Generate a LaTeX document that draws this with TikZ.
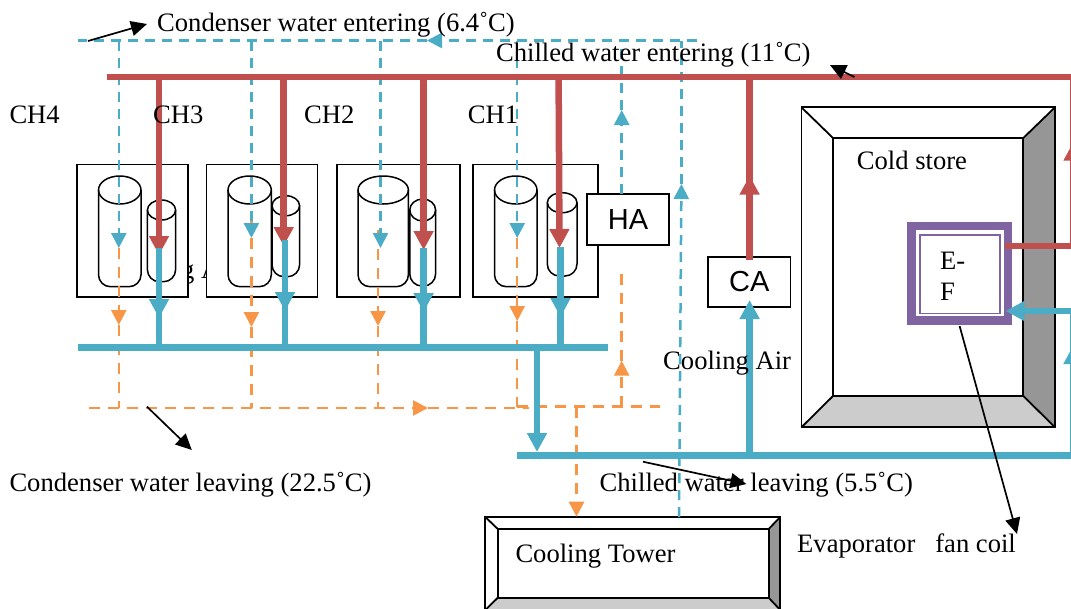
\documentclass[tikz,border=0pt]{standalone}
\usepackage{fontspec}
\setmainfont{Liberation Serif}
\newfontfamily\sansfont{Liberation Sans}
\usetikzlibrary{arrows.meta}
\definecolor{pipered}{HTML}{C0504D}
\definecolor{pipeblue}{HTML}{4BACC6}
\definecolor{pipeorange}{HTML}{F79646}
\definecolor{coilpurple}{HTML}{8064A2}
\tikzset{
  lbl/.style={anchor=base west, inner sep=0pt, yshift=-1pt, font=\fontsize{26.6}{29}\selectfont},
  unitbox/.style={draw, line width=1.8pt, fill=white, inner sep=0pt},
  unitlbl/.style={unitbox, font=\sansfont\fontsize{29}{32}\selectfont},
  tank/.style={draw, line width=1.5pt},
  frame/.style={draw, line width=1.8pt},
  redpipe/.style={draw=pipered, line width=6.5pt},
  bluepipe/.style={draw=pipeblue, line width=6.5pt},
  bluedash/.style={draw=pipeblue, line width=2.5pt, dash pattern=on 10pt off 7pt},
  orangedash/.style={draw=pipeorange, line width=2.5pt, dash pattern=on 11pt off 8pt},
  bigred/.style={-{Triangle[width=19pt,length=19pt,fill=pipered]}},
  bigblue/.style={-{Triangle[width=19pt,length=19pt,fill=pipeblue]}},
  smallblue/.style={-{Triangle[width=15pt,length=15pt,fill=pipeblue]}},
  smallorange/.style={-{Triangle[width=15pt,length=15pt,fill=pipeorange]}},
  pointer/.style={draw=black, line width=1.7pt, -{Triangle[width=15pt,length=16pt]}},
}
\begin{document}
\begin{tikzpicture}[x=1pt,y=-1pt]
    \useasboundingbox (0,0) rectangle (1071,608);

    % 隠れた文字
    \node[lbl] (hidden) at (181,277) {g A};

    % 冷凍機の箱
    \node[unitbox, minimum width=110.9pt, minimum height=132.2pt] (CH4box) at (132.2,230.6) {};
    \node[unitbox, minimum width=110.9pt, minimum height=132.2pt] (CH3box) at (262,230.6) {};
    \node[unitbox, minimum width=122.7pt, minimum height=132.2pt] (CH2box) at (398.3,230.6) {};
    \node[unitbox, minimum width=124.6pt, minimum height=132.2pt] (CH1box) at (535.3,230.6) {};

    % 円筒
    \foreach \xa/\xb/\ya/\yb/\cap in {
        98.5/141/176/286.7/14, 147.4/175.6/200/281.7/10,
        228/271.3/176/286.7/14, 272/299.6/195.7/276.7/10,
        358/408.4/176/286.7/14, 409.8/435.6/199/286/11,
        494.5/537/176/286.7/14, 547.3/577/192.7/276/10} {
      \draw[tank] ({(\xa+\xb)/2},{\ya+\cap}) ellipse ({(\xb-\xa)/2} and \cap);
      \draw[tank, rounded corners=12pt] (\xa,{\ya+\cap}) -- (\xa,\yb) -- (\xb,\yb) -- (\xb,{\ya+\cap});
    }

    % 冷凍庫
    \fill[black!41] (1023,138.3) -- (1055,107.3) -- (1055,427.3) -- (1023,395.7) -- cycle;
    \fill[black!20] (833.3,395.7) -- (1023,395.7) -- (1055,427.3) -- (801.4,427.3) -- cycle;
    \draw[frame] (801.4,107.3) rectangle (1055,427.3);
    \draw[frame] (833.3,138.3) rectangle (1023,395.7);
    \draw[frame] (801.4,107.3) -- (833.3,138.3);
    \draw[frame] (1055,107.3) -- (1023,138.3);
    \draw[frame] (801.4,427.3) -- (833.3,395.7);
    \draw[frame] (1055,427.3) -- (1023,395.7);

    % 冷却塔
    \fill[black!41] (768.6,529) -- (780.3,517) -- (780.3,610) -- (768.6,597.7) -- cycle;
    \fill[black!20] (497.8,597.7) -- (768.6,597.7) -- (780.3,610) -- (485.3,610) -- cycle;
    \draw[frame] (485.3,517) rectangle (780.3,610);
    \draw[frame] (497.8,529) rectangle (768.6,597.7);
    \draw[frame] (485.3,517) -- (497.8,529);
    \draw[frame] (780.3,517) -- (768.6,529);
    \draw[frame] (485.3,610) -- (497.8,597.7);
    \draw[frame] (780.3,610) -- (768.6,597.7);

    % ファンコイル
    \node[draw=coilpurple, line width=8.5pt, fill=white, minimum width=96.5pt, minimum height=94.7pt, inner sep=0pt] (EF) at (959.5,273.3) {};
    \draw[coilpurple, line width=1.9pt] (920,235) rectangle (1000.3,313.5);

    % 機器の箱
    \node[unitlbl, minimum width=82.6pt, minimum height=51pt] (HA) at (628,219.5) {HA};
    \node[unitlbl, minimum width=82.6pt, minimum height=49.7pt] (CA) at (749.2,281.8) {CA};

    % 点を置く
    \coordinate (ct0) at (77.5,40.5);
    \coordinate (ct1) at (118.8,40.5);
    \coordinate (ct2) at (251.4,40.5);
    \coordinate (ct3) at (380.5,40.5);
    \coordinate (ct4) at (517.2,40.5);
    \coordinate (ct5) at (621.7,40.5);
    \coordinate (ct6) at (681.4,40.5);
    \coordinate (ct7) at (697,40.5);
    \coordinate (ctarrow) at (427,40.5);
    \coordinate (cb1) at (118.8,248);
    \coordinate (cb2) at (251.4,238);
    \coordinate (cb3) at (380.5,248);
    \coordinate (cb4) at (517.2,238);
    \coordinate (co1) at (118.8,325);
    \coordinate (co2a) at (251.4,219);
    \coordinate (co2) at (251.4,327);
    \coordinate (co3a) at (378,230);
    \coordinate (co3) at (378,326);
    \coordinate (co4) at (517.2,321);
    \coordinate (cl0) at (88.5,408);
    \coordinate (cl1) at (118.8,408);
    \coordinate (cl2) at (251.4,408);
    \coordinate (cl3) at (378,408);
    \coordinate (clarrow) at (428,408);
    \coordinate (cl4) at (528.6,408);
    \coordinate (cr0) at (517.2,406.7);
    \coordinate (cr1) at (576.5,406.7);
    \coordinate (cr2) at (621.7,406.7);
    \coordinate (cr3) at (660,406.7);
    \coordinate (haup) at (621.7,360.7);
    \coordinate (halow) at (621.7,270);
    \coordinate (hatop) at (621.7,194);
    \coordinate (hablue) at (621.7,110);
    \coordinate (ctw) at (576.5,516.7);
    \coordinate (twb) at (679,517);
    \coordinate (twbup) at (681.4,184);

    % 冷却水
    \draw[bluedash, smallblue] (ct7) -- (ctarrow);
    \draw[bluedash] (ctarrow) -- (ct0);
    \draw[orangedash, smallorange] (cb1) -- (co1);
    \draw[orangedash, smallorange] (co2a) -- (co2);
    \draw[orangedash, smallorange] (co3a) -- (co3);
    \draw[orangedash, smallorange] (cb4) -- (co4);
    \draw[bluedash, smallblue] (ct1) -- (cb1);
    \draw[bluedash, smallblue] (ct2) -- (cb2);
    \draw[bluedash, smallblue] (ct3) -- (cb3);
    \draw[bluedash, smallblue] (ct4) -- (cb4);
    \draw[orangedash] (co1) -- (cl1);
    \draw[orangedash] (co2) -- (cl2);
    \draw[orangedash] (co3) -- (cl3);
    \draw[orangedash] (co4) -- (cr0);
    \draw[orangedash, smallorange] (cl0) -- (clarrow);
    \draw[orangedash] (clarrow) -- (cl4);
    \draw[orangedash] (cr0) -- (cr3);
    \draw[orangedash, smallorange] (cr2) -- (haup);
    \draw[orangedash] (haup) -- (halow);
    \draw[orangedash, smallorange] (cr1) -- (ctw);
    \draw[bluedash, smallblue] (hatop) -- (hablue);
    \draw[bluedash] (hablue) -- (ct5);
    \draw[bluedash, smallblue] (twb) -- (twbup);
    \draw[bluedash] (twbup) -- (ct6);

    % 冷水の点
    \coordinate (rm0) at (107.4,77);
    \coordinate (rm1) at (159,77);
    \coordinate (rm2) at (283.7,77);
    \coordinate (rm3) at (423.6,77);
    \coordinate (rm4) at (558.6,77);
    \coordinate (rm5) at (749.6,77);
    \coordinate (rm6) at (1073.5,77);
    \coordinate (rm7) at (1073.5,141.7);
    \coordinate (rm7a) at (1073.5,150);
    \coordinate (rm8) at (1073.5,246);
    \coordinate (rf) at (1005,246);
    \coordinate (rt1) at (159,255);
    \coordinate (rt2) at (283.7,246);
    \coordinate (rt3) at (423.6,250);
    \coordinate (rt4) at (559.5,248);
    \coordinate (bs1) at (159,248);
    \coordinate (bs2) at (285,240);
    \coordinate (bs3) at (423.6,248);
    \coordinate (bs4) at (560.5,247);
    \coordinate (bt1) at (159,318);
    \coordinate (bt2) at (285,311);
    \coordinate (bt3) at (423.6,312);
    \coordinate (bt4) at (560.5,317);
    \coordinate (bu1) at (159,311);
    \coordinate (bu2) at (285,304);
    \coordinate (bu3) at (423.6,305);
    \coordinate (bu4) at (560.5,310);
    \coordinate (bm0) at (77.5,347.3);
    \coordinate (bm1) at (159,347.3);
    \coordinate (bm2) at (285,347.3);
    \coordinate (bm3) at (423.6,347.3);
    \coordinate (bm4) at (537,347.3);
    \coordinate (bm5) at (560.5,347.3);
    \coordinate (bm6) at (607.7,347.3);
    \coordinate (bl0) at (517.3,455.7);
    \coordinate (bl2) at (749.6,455.7);
    \coordinate (bl3) at (1073.5,455.7);
    \coordinate (btip) at (537,452);
    \coordinate (redtip) at (749.6,175.7);
    \coordinate (redtop) at (749.6,183);
    \coordinate (redca) at (749.6,260);
    \coordinate (bluetip) at (749.6,300);
    \coordinate (bv1) at (1073.5,345);
    \coordinate (bv1a) at (1073.5,353);
    \coordinate (bv2) at (1073.5,311);
    \coordinate (bf) at (1005.6,311);

    % 冷水の線
    \draw[redpipe] (rm0) -- (rm6);
    \draw[redpipe, bigred] (rm1) -- (rt1);
    \draw[redpipe, bigred] (rm2) -- (rt2);
    \draw[redpipe, bigred] (rm3) -- (rt3);
    \draw[redpipe, bigred] (rm4) -- (rt4);
    \draw[redpipe, bigred] (redca) -- (redtip);
    \draw[redpipe] (redtop) -- (rm5);
    \draw[redpipe, bigred] (rm8) -- (rm7);
    \draw[redpipe] (rm6) -- (rm7a);
    \draw[redpipe] (rm8) -- (rf);
    \draw[bluepipe, bigblue] (bs1) -- (bt1);
    \draw[bluepipe, bigblue] (bs2) -- (bt2);
    \draw[bluepipe, bigblue] (bs3) -- (bt3);
    \draw[bluepipe, bigblue] (bs4) -- (bt4);
    \draw[bluepipe] (bu1) -- (bm1);
    \draw[bluepipe] (bu2) -- (bm2);
    \draw[bluepipe] (bu3) -- (bm3);
    \draw[bluepipe] (bu4) -- (bm5);
    \draw[bluepipe] (bm0) -- (bm6);
    \draw[bluepipe, bigblue] (bm4) -- (btip);
    \draw[bluepipe] (bl0) -- (bl3);
    \draw[bluepipe, bigblue] (bl2) -- (bluetip);
    \draw[bluepipe, bigblue] (bl3) -- (bv1);
    \draw[bluepipe] (bv1a) -- (bv2);
    \draw[bluepipe, bigblue] (bv2) -- (bf);

    % 文字
    \node[lbl] (CH4) at (9.3,122.7) {CH4};
    \node[lbl] (CH3) at (153,122.7) {CH3};
    \node[lbl] (CH2) at (304,122.7) {CH2};
    \node[lbl] (CH1) at (467.6,122.7) {CH1};
    \node[lbl] (condin) at (157,30) {Condenser water entering (6.4˚C)};
    \node[lbl] (chillin) at (495.9,60) {Chilled water entering (11˚C)};
    \node[lbl] (condout) at (9.3,490.7) {Condenser water leaving (22.5˚C)};
    \node[lbl] (chillout) at (599.5,490.7) {Chilled water leaving (5.5˚C)};
    \node[lbl] (coolair) at (663,368.3) {Cooling Air};
    \node[lbl] (store) at (856.7,168) {Cold store};
    \node[lbl] (tower) at (515.3,561.7) {Cooling Tower};
    \node[lbl] (evap) at (797,551.7) {Evaporator\ \ \ fan coil};
    \node[lbl] (efa) at (940,268) {E-};
    \node[lbl] (efb) at (940,299.5) {F};

    % 矢印
    \coordinate (pa1) at (88,41);
    \coordinate (pa2) at (147,24);
    \coordinate (pb1) at (854.4,77);
    \coordinate (pb2) at (830,65);
    \coordinate (pc1) at (147,406.7);
    \coordinate (pc2) at (191.8,450);
    \coordinate (pd1) at (643,461.7);
    \coordinate (pd2) at (746.4,484);
    \coordinate (pe1) at (959.6,326);
    \coordinate (pe2) at (1017,534);
    \draw[pointer] (pa1) -- (pa2);
    \draw[pointer] (pb1) -- (pb2);
    \draw[pointer] (pc1) -- (pc2);
    \draw[pointer] (pd1) -- (pd2);
    \draw[pointer] (pe1) -- (pe2);

  \end{tikzpicture}
\end{document}
